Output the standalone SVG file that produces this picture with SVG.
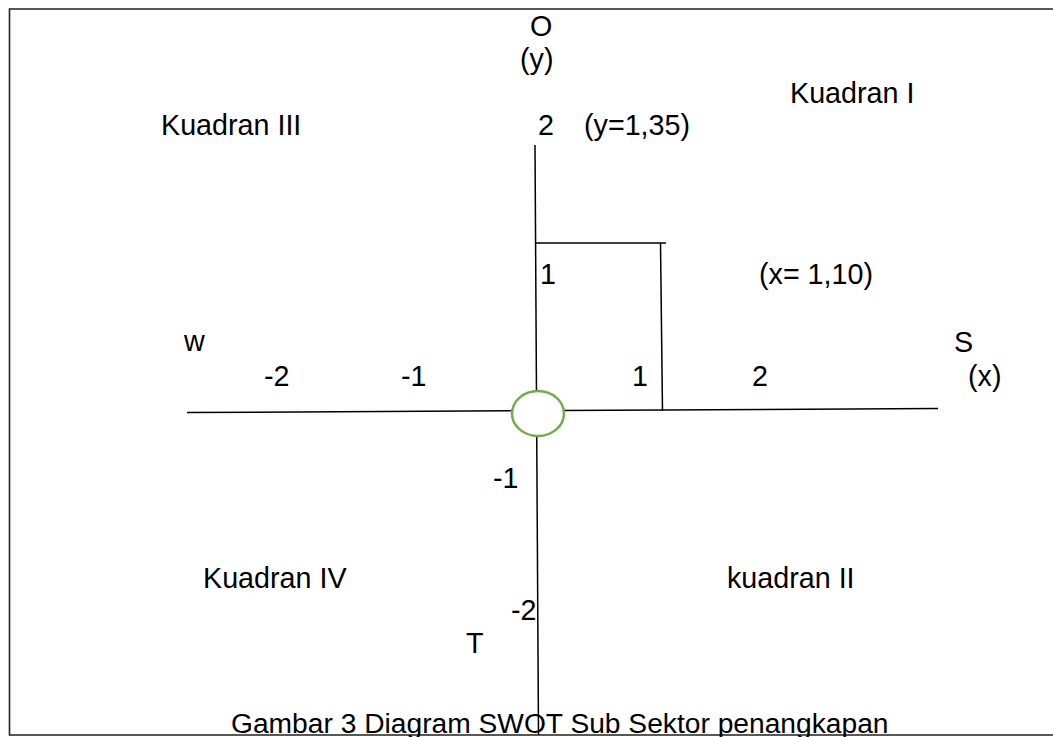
<svg xmlns="http://www.w3.org/2000/svg" width="1053" height="737" viewBox="0 0 1053 737">
  <style>
    .lbl { font-family: "Liberation Sans", Arial, sans-serif; font-size: 28.7px; fill: #000; }
    .cap { font-size: 28.2px; }
    .ax { stroke: #000; stroke-width: 1.5; fill: none; }
    .frame { stroke: #222; stroke-width: 1.6; fill: #fff; }
  </style>
  <rect width="1053" height="737" fill="#fff"/>
  <!-- outer frame, open on the right -->
  <path class="frame" d="M1060 9 H9.5 V735 H1060" />

  <g id="connectors">
    <!-- x axis (W to S) -->
    <line class="ax" x1="187" y1="412.5" x2="938" y2="408.5"/>
    <!-- y axis (O to T) -->
    <line class="ax" x1="535" y1="145" x2="538.5" y2="735"/>
    <!-- strategy position box: y = 1,35 and x = 1,10 -->
    <polyline class="ax" points="535,243 666,243"/>
    <line class="ax" x1="660.5" y1="243" x2="662.5" y2="411"/>
  </g>

  <g id="origin">
    <ellipse cx="538" cy="413.5" rx="26" ry="22.5" fill="#fff" stroke="#70AD47" stroke-width="2.5"/>
  </g>

  <g id="axis-labels">
    <text class="lbl" x="530" y="36">O</text>
    <text class="lbl" x="520" y="69">(y)</text>
    <text class="lbl" x="184" y="351">w</text>
    <text class="lbl" x="954" y="352">S</text>
    <text class="lbl" x="968" y="386">(x)</text>
    <text class="lbl" x="466" y="653">T</text>
  </g>

  <g id="ticks">
    <text class="lbl" x="538" y="135">2</text>
    <text class="lbl" x="540" y="284">1</text>
    <text class="lbl" x="264" y="386">-2</text>
    <text class="lbl" x="401" y="386">-1</text>
    <text class="lbl" x="632" y="386">1</text>
    <text class="lbl" x="752" y="386">2</text>
    <text class="lbl" x="493" y="488">-1</text>
    <text class="lbl" x="511" y="620">-2</text>
  </g>

  <g id="values">
    <text class="lbl" x="584" y="135">(y=1,35)</text>
    <text class="lbl" x="759" y="284">(x= 1,10)</text>
  </g>

  <g id="quadrants">
    <text class="lbl" x="790" y="103">Kuadran I</text>
    <text class="lbl" x="161" y="135">Kuadran III</text>
    <text class="lbl" x="203" y="588">Kuadran IV</text>
    <text class="lbl" x="727" y="588">kuadran II</text>
  </g>

  <g id="caption">
    <text class="lbl cap" x="231" y="733">Gambar 3 Diagram SWOT Sub Sektor penangkapan</text>
  </g>
</svg>
